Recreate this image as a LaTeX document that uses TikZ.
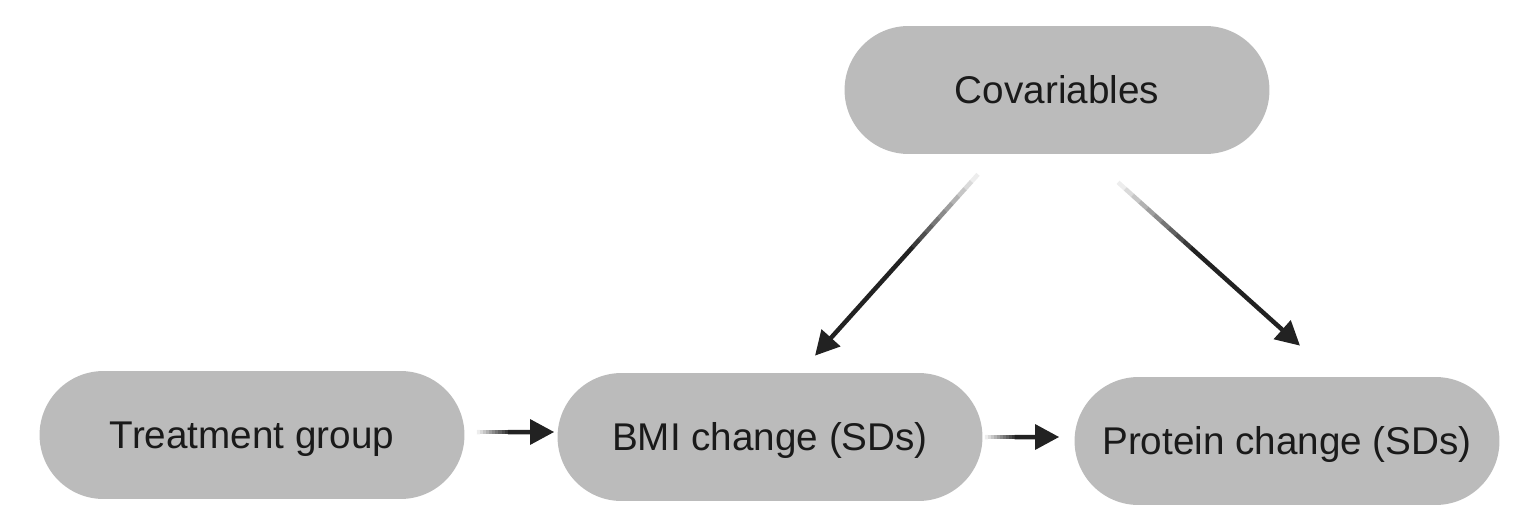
\documentclass[tikz,border=0pt]{standalone}
\usepackage{fontspec}
\setmainfont{Liberation Sans}
\usetikzlibrary{calc,arrows.meta,shapes.misc}
\definecolor{boxgray}{RGB}{187,187,187}
\definecolor{arrowgray}{RGB}{34,34,34}
\definecolor{textgray}{RGB}{26,26,26}
\def\fadearrow(#1)(#2){%
	\foreach \k in {0,...,9}{%
		\pgfmathsetmacro\mixval{8+9*\k}%
		\draw[line width=0.09cm, arrowgray!\mixval] ($(#1)!\k*0.04!(#2)$) -- ($(#1)!\k*0.04+0.041!(#2)$);
	}%
	\draw[line width=0.09cm, arrowgray, -{Triangle[length=0.48cm,width=0.49cm]}] ($(#1)!0.4!(#2)$) -- (#2);
}

\begin{document}
\begin{tikzpicture}[x=0.02cm, y=-0.02cm,
	box/.style={rounded rectangle, fill=boxgray, draw=none, minimum width=8.5cm, minimum height=2.56cm, inner sep=0pt, text=textgray, text height=0.54cm, text depth=0pt, font=\fontsize{22}{26}\selectfont}]
			%%%%% START %%%%%
			\useasboundingbox (0,0) rectangle (1533,530);
			
			\node[box] (cov) at (1057,90) {Covariables};
			\node[box] (treat) at (252,435) {Treatment group};
			\node[box] (bmi) at (770,437) {BMI change (SDs)};
			\node[box] (prot) at (1287,441) {Protein change (SDs)};
			
			\coordinate (tb0) at ($(treat.east)+(12,-3)$);
			\coordinate (tb1) at ($(bmi.west)+(-3,-5)$);
			\coordinate (bp0) at ($(bmi.east)+(2,0)$);
			\coordinate (bp1) at ($(prot.west)+(-15,-4)$);
			\coordinate (cb0) at ($(cov.south)+(-79,20)$);
			\coordinate (cb1) at ($(bmi.north)+(45,-17)$);
			\coordinate (cp0) at ($(cov.south)+(61,28)$);
			\coordinate (cp1) at ($(prot.north)+(13,-31)$);
			
			\fadearrow(tb0)(tb1)
			\fadearrow(bp0)(bp1)
			\fadearrow(cb0)(cb1)
			\fadearrow(cp0)(cp1)
			
			%%%%% END %%%%%
\end{tikzpicture}
\end{document}
